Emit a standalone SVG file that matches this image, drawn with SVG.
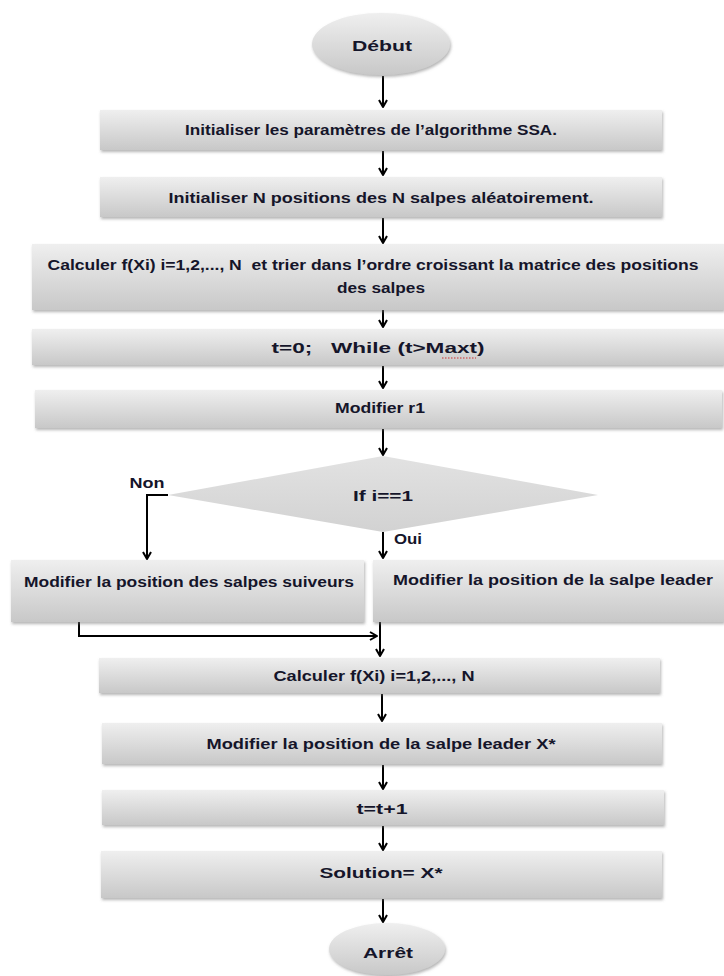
<svg xmlns="http://www.w3.org/2000/svg" width="724" height="976" viewBox="0 0 724 976">
<defs>
<linearGradient id="g" x1="0" y1="0" x2="0" y2="1">
<stop offset="0" stop-color="#efefef"/><stop offset="1" stop-color="#c8c8c8"/>
</linearGradient>
<linearGradient id="gd" x1="0" y1="0" x2="0" y2="1">
<stop offset="0" stop-color="#e2e2e2"/><stop offset="1" stop-color="#d2d2d2"/>
</linearGradient>
<filter id="sh" x="-5%" y="-20%" width="110%" height="150%">
<feDropShadow dx="1" dy="2" stdDeviation="1.4" flood-color="#777" flood-opacity="0.55"/>
</filter>
<marker id="ah" viewBox="0 0 10 10" refX="9" refY="5" markerWidth="10" markerHeight="10" orient="auto" markerUnits="userSpaceOnUse">
<path d="M2,1 L9,5 L2,9" fill="none" stroke="#000" stroke-width="2" stroke-linejoin="round"/>
</marker>
<style>
.box{fill:url(#g);filter:url(#sh);}
.t{font-family:"Liberation Sans",Arial,sans-serif;font-weight:bold;font-size:14px;fill:#15152a;text-anchor:middle;}
.s{text-anchor:start;}
.c{fill:none;stroke:#000;stroke-width:2;marker-end:url(#ah);}
</style>
</defs>

<g id="connectors">
<line class="c" x1="383" y1="76" x2="383" y2="107"/>
<line class="c" x1="383" y1="151" x2="383" y2="175"/>
<line class="c" x1="383" y1="218" x2="383" y2="243"/>
<line class="c" x1="383" y1="298" x2="383" y2="327"/>
<line class="c" x1="383" y1="366" x2="383" y2="388"/>
<line class="c" x1="383" y1="429" x2="383" y2="455"/>
<line class="c" x1="383" y1="532" x2="383" y2="558"/>
<polyline class="c" points="168,495 147,495 147,559"/>
<polyline class="c" points="79,621 79,636 377,636"/>
<line class="c" x1="380" y1="606" x2="380" y2="656"/>
<line class="c" x1="382" y1="694" x2="382" y2="721"/>
<line class="c" x1="383" y1="765" x2="383" y2="789"/>
<line class="c" x1="383" y1="826" x2="383" y2="850"/>
<line class="c" x1="383" y1="899" x2="383" y2="922"/>
</g>

<g id="debut">
<ellipse cx="381" cy="44" rx="69" ry="31" fill="url(#g)" filter="url(#sh)"/>
<text class="t" x="382" y="51" font-size="19" textLength="60" lengthAdjust="spacingAndGlyphs">Début</text>
</g>

<g id="init-params">
<rect class="box" x="100" y="110" width="562" height="40"/>
<text class="t" x="371" y="135" textLength="372" lengthAdjust="spacingAndGlyphs">Initialiser les paramètres de l’algorithme SSA.</text>
</g>

<g id="init-positions">
<rect class="box" x="100" y="177" width="562" height="40"/>
<text class="t" x="381" y="203" textLength="425" lengthAdjust="spacingAndGlyphs">Initialiser N positions des N salpes aléatoirement.</text>
</g>

<g id="calc-sort">
<rect class="box" x="32" y="244" width="692" height="66"/>
<text class="t" x="373" y="270" textLength="651" lengthAdjust="spacingAndGlyphs" xml:space="preserve">Calculer f(Xi) i=1,2,..., N  et trier dans l’ordre croissant la matrice des positions</text>
<text class="t" x="381" y="293" textLength="88" lengthAdjust="spacingAndGlyphs">des salpes</text>
</g>

<g id="while">
<rect class="box" x="32" y="329" width="692" height="36"/>
<text class="t" x="378" y="353" font-size="16" textLength="213" lengthAdjust="spacingAndGlyphs" xml:space="preserve">t=0;   While (t&gt;Maxt)</text>
<line x1="442" y1="358" x2="476" y2="358" stroke="#d03030" stroke-width="1" stroke-dasharray="1.5,1.5"/>
</g>

<g id="modif-r1">
<rect class="box" x="35" y="390" width="687" height="38"/>
<text class="t" x="380" y="413" textLength="90" lengthAdjust="spacingAndGlyphs">Modifier r1</text>
</g>

<g id="decision">
<polygon points="383,456 598,495 383,532 168,495" fill="url(#gd)"/>
<text class="t" x="383" y="501" font-size="17" textLength="60" lengthAdjust="spacingAndGlyphs">If i==1</text>
<text class="t" x="147" y="488" font-size="13" textLength="35" lengthAdjust="spacingAndGlyphs">Non</text>
<text class="t s" x="394" y="544" font-size="13" textLength="28" lengthAdjust="spacingAndGlyphs">Oui</text>
</g>

<g id="suiveurs">
<rect class="box" x="11" y="560" width="353" height="62"/>
<text class="t" x="189" y="587" textLength="330" lengthAdjust="spacingAndGlyphs">Modifier la position des salpes suiveurs</text>
</g>

<g id="leader">
<rect class="box" x="373" y="560" width="351" height="62"/>
<text class="t" x="553" y="585" textLength="320" lengthAdjust="spacingAndGlyphs">Modifier la position de la salpe leader</text>
</g>

<g id="calc">
<rect class="box" x="99" y="658" width="561" height="35"/>
<text class="t" x="374" y="681" textLength="201" lengthAdjust="spacingAndGlyphs">Calculer f(Xi) i=1,2,..., N</text>
</g>

<g id="leader-x">
<rect class="box" x="102" y="723" width="560" height="41"/>
<text class="t" x="381" y="749" textLength="349" lengthAdjust="spacingAndGlyphs">Modifier la position de la salpe leader X*</text>
</g>

<g id="incr">
<rect class="box" x="102" y="790" width="562" height="35"/>
<text class="t" x="382" y="814" textLength="51" lengthAdjust="spacingAndGlyphs">t=t+1</text>
</g>

<g id="solution">
<rect class="box" x="101" y="851" width="561" height="47"/>
<text class="t" x="381" y="878" font-size="17" textLength="123" lengthAdjust="spacingAndGlyphs">Solution= X*</text>
</g>

<g id="arret">
<ellipse cx="387" cy="949" rx="58" ry="26" fill="url(#g)" filter="url(#sh)"/>
<text class="t" x="388" y="958" font-size="17" textLength="50" lengthAdjust="spacingAndGlyphs">Arrêt</text>
</g>
</svg>
